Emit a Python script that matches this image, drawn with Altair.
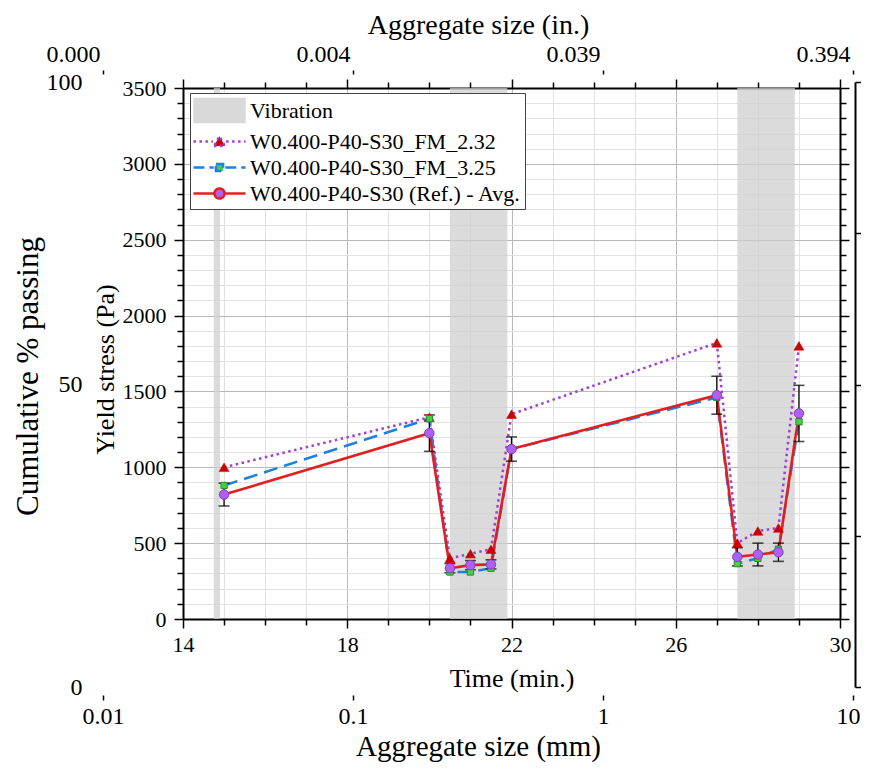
import altair as alt
import pandas as pd

# ---------------- data ----------------
time_min = [15, 20, 20.5, 21, 21.5, 22, 27, 27.5, 28, 28.5, 29]
fm_232 = [1000, 1330, 400, 430, 460, 1350, 1820, 500, 580, 600, 1800]
fm_325 = [880, 1320, 310, 310, 335, 1120, 1460, 365, 400, 460, 1300]
ref_avg = [820, 1225, 335, 355, 360, 1120, 1475, 410, 425, 440, 1355]
ref_err = [75, 120, 30, 30, 30, 80, 125, 60, 75, 60, 185]

vib_start = [14.75, 20.5, 27.5]
vib_end = [14.9, 21.9, 28.9]

time_ticks = list(range(14, 31))
stress_ticks = list(range(0, 3501, 100))
size_ticks_mm = [0.01, 0.1, 1, 10]
passing_labels = [0, 50, 100]
passing_ticks = [0, 25, 50, 75, 100]

legend_names = ["Vibration", "W0.400-P40-S30_FM_2.32",
                "W0.400-P40-S30_FM_3.25", "W0.400-P40-S30 (Ref.) - Avg."]

# ---------------- styling ----------------
FONT = "Liberation Serif"
W, H = 657, 531
C_DOT = "#a040d0"
C_TRI = "#cc0000"
C_DASH = "#1f80e0"
C_SQ = "#44d044"
C_RED = "#e02020"
C_CIRC = "#b060f0"

xs = alt.Scale(domain=[14, 30], nice=False, zero=False)
ys = alt.Scale(domain=[0, 3500], nice=False, zero=False)

df = pd.DataFrame({"time": time_min, "fm232": fm_232, "fm325": fm_325,
                   "ref": ref_avg, "err": ref_err})
df["lo"] = df["ref"] - df["err"]
df["hi"] = df["ref"] + df["err"]
vib = pd.DataFrame({"start": vib_start, "end": vib_end})


def cond(test, a, b):
    return {"condition": {"test": test, "value": a}, "value": b}


MX = "datum.value % 4 == 2"
MY = "datum.value % 500 == 0"
common = dict(domainColor="black", domainWidth=2, tickColor="black", tickWidth=1.5,
              labelFont=FONT, labelColor="black", titleFont=FONT, titleColor="black",
              titleFontWeight="normal", labelOverlap=False)

x_none = alt.X("time:Q", scale=xs, axis=None)

bands = alt.Chart(vib).mark_rect(color="#cfcfcf", opacity=0.75).encode(
    x=alt.X("start:Q", scale=xs, axis=alt.Axis(
        orient="bottom", values=time_ticks, format="d",
        labelExpr=f"{MX} ? datum.label : ''", labelFontSize=22, labelPadding=6,
        labelFlush=False, grid=True, gridColor=cond(MX, "#b8b8b8", "#e2e2e2"),
        gridWidth=1, tickSize=cond(MX, 9, 6), title="Time (min.)",
        titleFontSize=26, titlePadding=10, **common)),
    x2="end:Q",
)

line325 = alt.Chart(df).mark_line(color=C_DASH, strokeWidth=2.5, strokeDash=[14, 7]).encode(
    x=alt.X("time:Q", scale=xs, axis=alt.Axis(
        orient="top", values=time_ticks, labels=False, grid=False,
        tickSize=cond(MX, 9, 6), title=None, **common)),
    y=alt.Y("fm325:Q", scale=ys, axis=alt.Axis(
        orient="right", values=stress_ticks, labels=False, grid=False,
        tickSize=cond(MY, 9, 6), title=None, **common)),
)

line232 = alt.Chart(df).mark_line(color=C_DOT, strokeWidth=2.5, strokeDash=[2.5, 3.5]).encode(
    x=x_none,
    y=alt.Y("fm232:Q", scale=ys, axis=alt.Axis(
        orient="left", values=stress_ticks, format="d",
        labelExpr=f"{MY} ? datum.label : ''", labelFontSize=22, labelPadding=8,
        grid=True, gridColor=cond(MY, "#b8b8b8", "#e2e2e2"), gridWidth=1,
        tickSize=cond(MY, 9, 6), title="Yield stress (Pa)", titleFontSize=26,
        titlePadding=4, titleY=281, **common)),
)

line_ref = alt.Chart(df).mark_line(color=C_RED, strokeWidth=2.6).encode(
    x=x_none, y=alt.Y("ref:Q", scale=ys, axis=None))

err_rule = alt.Chart(df).mark_rule(color="black", strokeWidth=1.3).encode(
    x=x_none, y=alt.Y("lo:Q", scale=ys, axis=None), y2="hi:Q")
cap_lo = alt.Chart(df).mark_tick(orient="horizontal", color="black", size=11, thickness=1.6).encode(
    x=x_none, y=alt.Y("lo:Q", scale=ys, axis=None))
cap_hi = alt.Chart(df).mark_tick(orient="horizontal", color="black", size=11, thickness=1.6).encode(
    x=x_none, y=alt.Y("hi:Q", scale=ys, axis=None))

tri = alt.Chart(df).mark_point(shape="triangle-up", filled=True, size=100, fill=C_TRI,
                               stroke=C_TRI, strokeWidth=0.5, opacity=1).encode(
    x=x_none, y=alt.Y("fm232:Q", scale=ys, axis=None))
sq = alt.Chart(df).mark_point(shape="square", filled=True, size=40, fill=C_SQ,
                              stroke="#2a8a2a", strokeWidth=1, opacity=1).encode(
    x=x_none, y=alt.Y("fm325:Q", scale=ys, axis=None))
circ = alt.Chart(df).mark_point(shape="circle", filled=True, size=90, fill=C_CIRC,
                                stroke="#7f3fc0", strokeWidth=1, opacity=1).encode(
    x=x_none, y=alt.Y("ref:Q", scale=ys, axis=None))

# ---------------- background (aggregate size) axes ----------------
bg_df = pd.DataFrame({"size_mm": size_ticks_mm[:3], "passing": passing_labels})
size_scale = alt.Scale(type="log", domain=[0.01, 10], range=[-80, 670], nice=False)
pass_scale = alt.Scale(domain=[0, 100], range=[599, -6], nice=False, zero=False)

LAST = "datum.value >= 10"
bgA = alt.Chart(bg_df).transform_filter("false").mark_point().encode(
    x=alt.X("size_mm:Q", scale=size_scale, axis=alt.Axis(
        orient="bottom", offset=76, values=size_ticks_mm, format="~g", domain=False,
        tickSize=5, labelFontSize=24, labelPadding=4, labelFlush=False, grid=False,
        labelAlign=cond(LAST, "right", "center"), labelOffset=cond(LAST, 7, 0),
        title="Aggregate size (mm)", titleFontSize=29, titlePadding=4, **common)),
    y=alt.Y("passing:Q", scale=pass_scale, axis=alt.Axis(
        orient="left", offset=80, values=passing_labels, domain=False, ticks=False,
        tickSize=0, labelPadding=21, labelFontSize=24, grid=False,
        title="Cumulative % passing", titleFontSize=31, titlePadding=2, titleY=288,
        **common)),
)

bgB = alt.Chart(bg_df).transform_filter("false").mark_point().encode(
    x=alt.X("size_mm:Q", scale=size_scale, axis=alt.Axis(
        orient="top", offset=14, values=size_ticks_mm, domain=False,
        labelExpr="format(datum.value / 25.4, '.3f')", labelOffset=-30,
        tickSize=4, labelFontSize=24, labelPadding=4, labelFlush=False, grid=False,
        title="Aggregate size (in.)", titleFontSize=28, titlePadding=3, **common)),
    y=alt.Y("passing:Q", scale=pass_scale, axis=alt.Axis(
        orient="right", offset=15, values=passing_ticks, labels=False,
        tickSize=6, grid=False, title=None, **common)),
)

# ---------------- legend (custom symbol paths, unit = 12 px) ----------------
sym_paths = [
    "M-2.08,-0.95L2.08,-0.95L2.08,0.95L-2.08,0.95Z",
    "M-2.17,0L-0.55,0M0.55,0L2.17,0M-0.46,0.38L0.46,0.38L0,-0.44Z",
    "M-2.17,0L-0.48,0M0.48,0L2.17,0M-0.3,-0.3L0.3,-0.3L0.3,0.3L-0.3,0.3Z",
    "M-2.17,0L-0.46,0M0.46,0L2.17,0M0.42,0A0.42,0.42 0 1 1 -0.42,0A0.42,0.42 0 1 1 0.42,0Z",
]
sym_fill = ["#d9d9d9", C_TRI, C_SQ, C_CIRC]
sym_stroke = ["#d9d9d9", C_DOT, C_DASH, C_RED]
sym_dash = [[1, 0], [2.5, 3.5], [11, 5], [1, 0]]

leg = alt.Legend(orient="none", legendX=7, legendY=5, title=None, labelFont=FONT,
                 labelFontSize=22, labelColor="black", symbolSize=576,
                 symbolStrokeWidth=2.5, strokeColor="#444444", fillColor="white",
                 padding=4, labelOffset=17, symbolOffset=12, rowPadding=1,
                 labelLimit=500)
leg_df = pd.DataFrame({"entry": legend_names})
legend_layer = alt.Chart(leg_df).transform_filter("false").mark_point(
    filled=True, size=576, strokeWidth=2.5, opacity=1).encode(
    shape=alt.Shape("entry:N", scale=alt.Scale(domain=legend_names, range=sym_paths), legend=leg),
    fill=alt.Fill("entry:N", scale=alt.Scale(domain=legend_names, range=sym_fill), legend=leg),
    stroke=alt.Stroke("entry:N", scale=alt.Scale(domain=legend_names, range=sym_stroke), legend=leg),
    strokeDash=alt.StrokeDash("entry:N", scale=alt.Scale(domain=legend_names, range=sym_dash), legend=leg),
)

chart = alt.layer(
    bands, line325, line232, line_ref, err_rule, cap_lo, cap_hi, tri, sq, circ,
    bgA, bgB, legend_layer,
).resolve_scale(x="independent", y="independent").properties(
    width=W, height=H,
    autosize=alt.AutoSizeParams(type="none"),
    padding={"left": 175, "top": 80, "right": 21, "bottom": 143},
).configure_view(stroke=None).configure(background="white")

chart.save("out.html", embed_options={"renderer": "svg", "actions": False})
